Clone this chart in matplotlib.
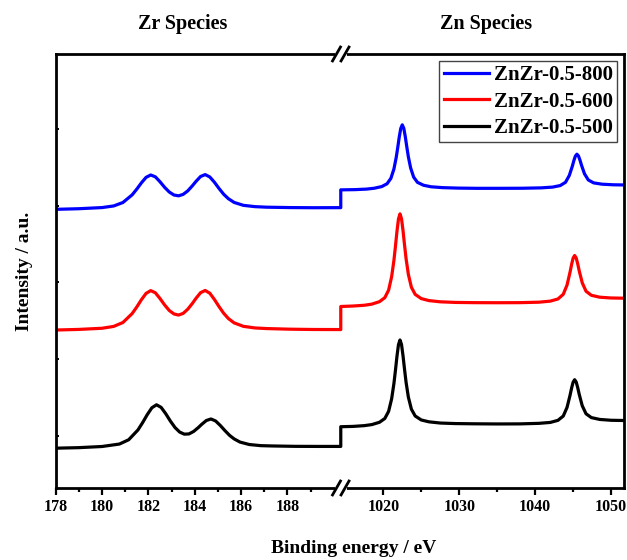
import numpy as np
import matplotlib
matplotlib.use('Agg')
import matplotlib.pyplot as plt
from matplotlib.ticker import FixedLocator

## Zr 3d region (binding energy, eV)
zr_energy = [178.0, 179.0, 180.0, 180.5, 180.9, 181.3, 181.5, 181.7, 181.9, 182.1, 182.3, 182.5,
	182.7, 182.9, 183.1, 183.3, 183.5, 183.7, 183.9, 184.05, 184.25, 184.45, 184.65, 184.85,
	185.05, 185.25, 185.45, 185.7, 186.1, 186.6, 187.1, 188.1, 189.1, 190.3]
zr_energy_500 = [178.0, 179.0, 180.0, 180.75, 181.15, 181.55, 181.75, 181.95, 182.15, 182.35, 182.55,
	182.75, 182.95, 183.15, 183.35, 183.55, 183.75, 183.95, 184.15, 184.3, 184.5, 184.7, 184.9,
	185.1, 185.3, 185.5, 185.7, 185.95, 186.35, 186.85, 187.35, 188.35, 189.35, 190.3]

zr_800 = [3.954, 3.962, 3.977, 3.998, 4.043, 4.143, 4.218, 4.300, 4.371, 4.402, 4.378, 4.314,
	4.241, 4.180, 4.141, 4.130, 4.149, 4.195, 4.262, 4.317, 4.382, 4.407, 4.376, 4.307,
	4.225, 4.150, 4.093, 4.044, 4.006, 3.989, 3.982, 3.977, 3.975, 3.976]
zr_600 = [2.380, 2.388, 2.403, 2.427, 2.478, 2.595, 2.681, 2.776, 2.858, 2.894, 2.866, 2.791,
	2.707, 2.635, 2.590, 2.575, 2.597, 2.652, 2.728, 2.792, 2.867, 2.896, 2.860, 2.778,
	2.684, 2.598, 2.530, 2.473, 2.428, 2.407, 2.399, 2.391, 2.387, 2.386]
zr_500 = [0.839, 0.846, 0.861, 0.893, 0.949, 1.077, 1.172, 1.276, 1.366, 1.405, 1.371, 1.288,
	1.192, 1.108, 1.049, 1.022, 1.025, 1.057, 1.107, 1.150, 1.200, 1.220, 1.194, 1.136,
	1.069, 1.007, 0.960, 0.919, 0.887, 0.872, 0.868, 0.863, 0.862, 0.862]

## Zn 2p region
zn_energy = [1014.4, 1016.0, 1017.5, 1018.5, 1019.5, 1020.2, 1020.7, 1021.1, 1021.4, 1021.6, 1021.8,
	1022.0, 1022.2, 1022.4, 1022.6, 1022.8, 1023.0, 1023.3, 1023.7, 1024.2, 1025.0, 1026.0,
	1027.5, 1029.5, 1032.0, 1035.0, 1038.0, 1040.5, 1042.0, 1043.0, 1043.7, 1044.2, 1044.6,
	1044.8, 1045.0, 1045.2, 1045.4, 1045.6, 1045.8, 1046.2, 1046.7, 1047.4, 1048.5, 1050.0, 1051.7]
zn_energy_800 = [1014.4, 1016.3, 1017.8, 1018.8, 1019.8, 1020.5, 1021.0, 1021.4, 1021.7, 1021.9, 1022.1,
	1022.3, 1022.5, 1022.7, 1022.9, 1023.1, 1023.3, 1023.6, 1024.0, 1024.5, 1025.3, 1026.3,
	1027.8, 1029.8, 1032.3, 1035.3, 1038.3, 1040.8, 1042.3, 1043.3, 1044.0, 1044.5, 1044.9,
	1045.1, 1045.3, 1045.5, 1045.7, 1045.9, 1046.1, 1046.5, 1047.0, 1047.7, 1048.8, 1050.3, 1051.7]

zn_800 = [4.208, 4.211, 4.218, 4.229, 4.251, 4.288, 4.358, 4.480, 4.630, 4.758, 4.896, 5.009,
	5.056, 5.011, 4.900, 4.766, 4.640, 4.494, 4.374, 4.306, 4.268, 4.248, 4.237, 4.231,
	4.228, 4.228, 4.229, 4.234, 4.244, 4.264, 4.307, 4.396, 4.518, 4.590, 4.649, 4.673,
	4.651, 4.597, 4.531, 4.417, 4.337, 4.299, 4.282, 4.274, 4.272]
zn_600 = [2.687, 2.693, 2.703, 2.718, 2.750, 2.802, 2.900, 3.076, 3.288, 3.471, 3.666, 3.829,
	3.895, 3.832, 3.675, 3.488, 3.311, 3.107, 2.938, 2.845, 2.790, 2.764, 2.748, 2.740,
	2.737, 2.736, 2.737, 2.743, 2.757, 2.785, 2.846, 2.967, 3.137, 3.236, 3.318, 3.352,
	3.321, 3.246, 3.153, 2.996, 2.886, 2.833, 2.808, 2.798, 2.795]
zn_500 = [1.119, 1.123, 1.133, 1.147, 1.177, 1.226, 1.319, 1.483, 1.682, 1.853, 2.036, 2.189,
	2.250, 2.192, 2.043, 1.866, 1.699, 1.506, 1.348, 1.259, 1.207, 1.183, 1.167, 1.160,
	1.157, 1.155, 1.156, 1.163, 1.175, 1.202, 1.258, 1.371, 1.531, 1.623, 1.700, 1.732,
	1.703, 1.631, 1.543, 1.393, 1.288, 1.238, 1.214, 1.203, 1.200]

labels = ['ZnZr-0.5-800', 'ZnZr-0.5-600', 'ZnZr-0.5-500']
major_ticks = [178, 180, 182, 184, 186, 188, 1020, 1030, 1040, 1050]
minor_ticks = [179, 181, 183, 185, 187, 189, 1025, 1035, 1045]

## broken axis: 178-190.3 | 1014.4-1051.7, right part squeezed
BREAK_LO = 190.3
BREAK_HI = 1014.4
SQUEEZE = 0.3276

def fwd(x):
	x = np.asarray(x, dtype=float)
	return np.where(x <= BREAK_LO, x, np.where(x >= BREAK_HI, BREAK_LO + (x - BREAK_HI) * SQUEEZE, BREAK_LO))

def inv(u):
	u = np.asarray(u, dtype=float)
	return np.where(u <= BREAK_LO, u, BREAK_HI + (u - BREAK_LO) / SQUEEZE)

plt.rcParams['font.family'] = ['Liberation Serif', 'DejaVu Serif']
plt.rcParams['font.weight'] = 'bold'

fig = plt.figure(figsize=(6.27, 5.60), dpi=100)
ax = fig.add_axes([0.0888, 0.1286, 0.9064, 0.775])
ax.set_xscale('function', functions=(fwd, inv))

ax.plot(zr_energy + zn_energy_800, zr_800 + zn_800, color='blue', lw=2.3, label=labels[0])
ax.plot(zr_energy + zn_energy, zr_600 + zn_600, color='red', lw=2.3, label=labels[1])
ax.plot(zr_energy_500 + zn_energy, zr_500 + zn_500, color='black', lw=2.3, label=labels[2])

ax.set_xlim(178, 1051.7)
ax.set_ylim(0.32, 5.98)

ax.xaxis.set_major_locator(FixedLocator(major_ticks))
ax.xaxis.set_minor_locator(FixedLocator(minor_ticks))
ax.set_xticklabels([str(t) for t in major_ticks])
ax.set_yticks([1, 2, 3, 4, 5])
ax.set_yticklabels([])
ax.tick_params(axis='x', which='major', direction='out', length=5, width=1.6, labelsize=11.5, pad=3)
ax.tick_params(axis='x', which='minor', direction='out', length=3, width=1.6)
ax.tick_params(axis='y', which='major', direction='in', length=2.5, width=1.4)
for side in ['left', 'right', 'top', 'bottom']:
	ax.spines[side].set_linewidth(2.0)

ax.set_xlabel('Binding energy / eV', fontsize=14, fontweight='bold')
ax.xaxis.set_label_coords(0.525, -0.12)
ax.set_ylabel('Intensity / a.u.', fontsize=14, fontweight='bold')
ax.yaxis.set_label_coords(-0.04, 0.5)

## break marks "//" on top and bottom spines
x0, x1 = ax.get_xlim()
xb = (fwd(BREAK_LO) - fwd(x0)) / (fwd(x1) - fwd(x0))
dx = 0.007
dy = 0.016
for yy in [0, 1]:
	ax.plot([xb - 0.006, xb + 0.006], [yy, yy], color='white', lw=3.5, transform=ax.transAxes, clip_on=False, zorder=5)
	for off in [-0.0075, 0.0075]:
		ax.plot([xb + off - dx, xb + off + dx], [yy - dy, yy + dy], color='black', lw=2.0,
			transform=ax.transAxes, clip_on=False, zorder=6)

leg = ax.legend(loc='upper right', bbox_to_anchor=(1.0, 1.0), borderaxespad=0.35, fontsize=15,
	handlelength=2.2, handletextpad=0.2, labelspacing=0.3, borderpad=0.2, fancybox=False, framealpha=1)
leg.get_frame().set_edgecolor('#444444')
leg.get_frame().set_linewidth(1.0)

fig.text(0.292, 0.958, 'Zr Species', ha='center', va='center', fontsize=14.5, fontweight='bold')
fig.text(0.775, 0.958, 'Zn Species', ha='center', va='center', fontsize=14.5, fontweight='bold')

plt.savefig('out.png', dpi=100)
